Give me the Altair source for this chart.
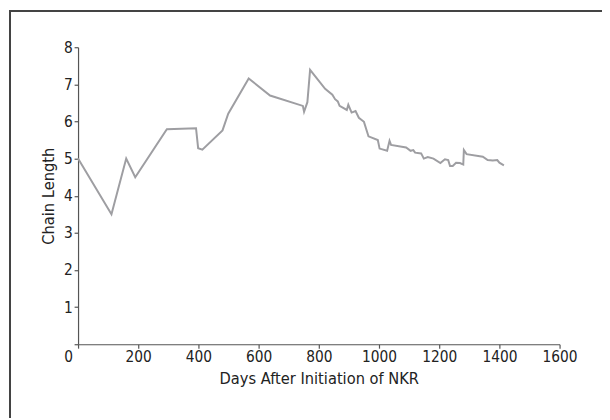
import altair as alt
import pandas as pd

days = [0, 111, 160, 190, 295, 392, 399, 413, 480, 499, 567, 638, 747, 751, 762,
        771, 821, 845, 854, 863, 869, 893, 898, 909, 922, 933, 950, 965, 996,
        1002, 1027, 1035, 1040, 1090, 1105, 1114, 1120, 1140, 1149, 1162, 1181,
        1204, 1219, 1230, 1236, 1245, 1256, 1269, 1280, 1282, 1291, 1345, 1361,
        1378, 1393, 1400, 1415]
chain_length = [5.0, 3.5, 5.0, 4.5, 5.79, 5.82, 5.28, 5.24, 5.76, 6.21, 7.16,
                6.70, 6.42, 6.26, 6.52, 7.39, 6.88, 6.72, 6.60, 6.54, 6.42, 6.31,
                6.45, 6.24, 6.28, 6.10, 5.99, 5.60, 5.50, 5.27, 5.21, 5.48, 5.37,
                5.30, 5.21, 5.23, 5.16, 5.14, 5.00, 5.04, 5.00, 4.88, 4.98, 4.96,
                4.80, 4.80, 4.89, 4.88, 4.84, 5.23, 5.12, 5.05, 4.96, 4.95, 4.96,
                4.89, 4.82]
x_ticks = [0, 200, 400, 600, 800, 1000, 1200, 1400, 1600]
y_ticks = [0, 1, 2, 3, 4, 5, 6, 7, 8]

df = pd.DataFrame({"day": days, "chain": chain_length})

FONT = "DejaVu Sans Condensed, Liberation Sans Narrow, sans-serif"

line = alt.Chart(df).mark_line(color="#9e9ea2", strokeWidth=2).encode(
    x=alt.X("day:Q", scale=alt.Scale(domain=[0, 1600], nice=False),
            axis=alt.Axis(title="Days After Initiation of NKR", values=x_ticks,
                          format="d",
                          labelOffset={"expr": "datum.value === 0 ? -10 : 0"},
                          labelFlush=False)),
    y=alt.Y("chain:Q", scale=alt.Scale(domain=[0, 8], nice=False),
            axis=alt.Axis(title="Chain Length", values=y_ticks, format="d",
                          labelExpr="datum.value === 0 ? '' : datum.label")),
)

frame = alt.Chart(df).mark_rect(fill=None, stroke="#444444", strokeWidth=1.5).encode(
    x=alt.value(-69), x2=alt.value(560), y=alt.value(-37), y2=alt.value(400)
)

chart = alt.layer(frame, line).properties(
    width=488, height=301,
    autosize=alt.AutoSizeParams(type="none"),
    padding={"left": 71, "top": 37, "right": 43, "bottom": 72},
).configure_view(stroke=None).configure_axis(
    grid=False, domainColor="#555555", tickColor="#555555", tickSize=4,
    labelFont=FONT, labelFontSize=15.5, labelColor="#222222", labelPadding=2,
    titleFont=FONT, titleFontSize=16.5, titleFontWeight="normal", titleColor="#222222",
    domainWidth=1.2, tickWidth=1.2,
).configure_axisX(titlePadding=5).configure_axisY(titlePadding=7)

chart.save("out.html", embed_options={"renderer": "svg", "actions": False})
